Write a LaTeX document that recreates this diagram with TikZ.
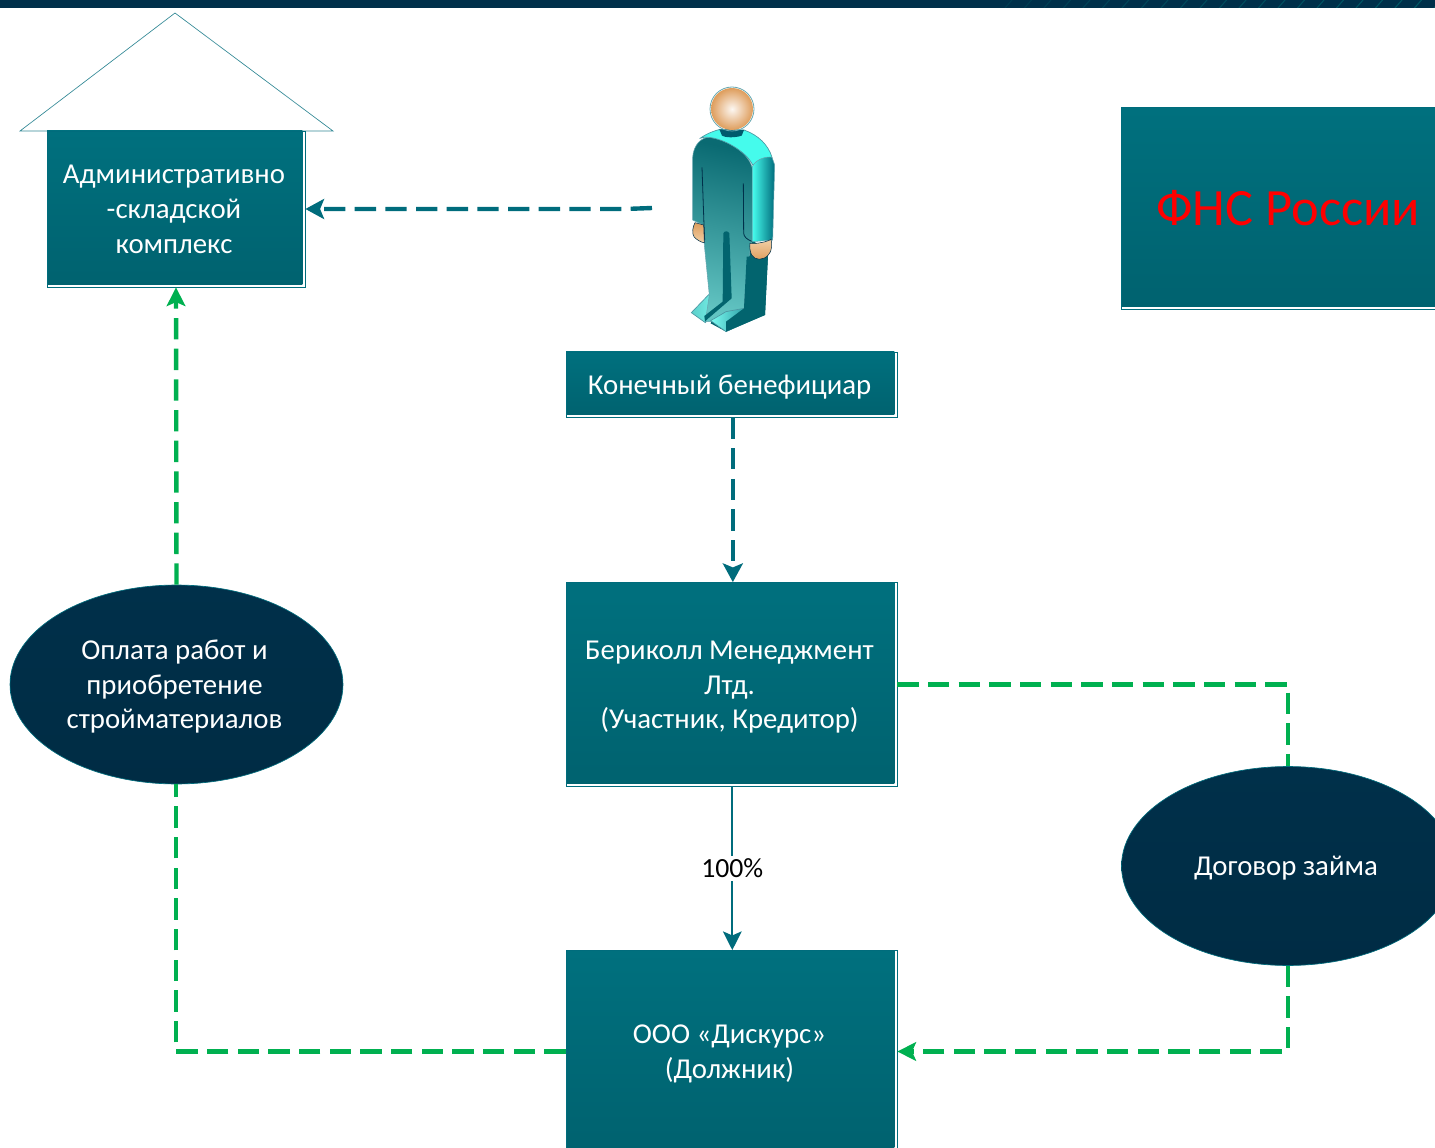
\documentclass[tikz,border=0pt]{standalone}
\usepackage{fontspec}
\setmainfont{Carlito}
\usetikzlibrary{arrows.meta,shapes.geometric,calc}
\definecolor{tealtop}{HTML}{00707E}
\definecolor{tealbot}{HTML}{00626F}
\definecolor{navy}{HTML}{00304A}
\definecolor{navyb}{HTML}{002C44}
\definecolor{linet}{HTML}{006C7C}
\definecolor{grn}{HTML}{00B050}
\definecolor{shoulderc}{HTML}{45FBEC}
\definecolor{bodytop}{HTML}{0A6A72}
\definecolor{bodybot}{HTML}{62C4C2}
\definecolor{legdark}{HTML}{02646E}
\definecolor{skin}{HTML}{DE9D5C}
\definecolor{skinl}{HTML}{F2CFA6}
\newcommand\tbx[2][1.9pt]{\raisebox{-#1}[\dimexpr\height+#1][\dimexpr\depth+#1]{\begin{tabular}{@{}c@{}}#2\end{tabular}\kern3pt}}
\tikzset{
  px/.style={x=0.75pt,y=-0.75pt},
  tbox/.style={rectangle,draw=linet,line width=0.6pt,fill=white,text=white,inner sep=0pt,
    font=\fontsize{21.6pt}{26.2pt}\selectfont,
    path picture={\shade[top color=tealtop,bottom color=tealbot]
      (path picture bounding box.north west) rectangle ([xshift=-1.9pt,yshift=1.9pt]path picture bounding box.south east);}},
  oval/.style={ellipse,draw=linet,line width=0.5pt,top color=navy,bottom color=navyb,text=white,inner sep=0pt,
    font=\fontsize{21.6pt}{26.2pt}\selectfont},
  tealdash/.style={draw=linet,line width=3.3pt,dash pattern=on 16pt off 7pt,-{Stealth[length=14pt,width=15pt,inset=3pt]}},
  grndash/.style={draw=grn,line width=3.3pt,dash pattern=on 16pt off 7pt},
  grnarrow/.style={grndash,-{Stealth[length=14pt,width=14pt,inset=3pt]}},
  tealsolid/.style={draw=linet,line width=1.6pt,-{Stealth[length=14pt,width=14pt,inset=3pt]}},
  outl/.style={draw=linet!70!white,line width=0.5pt},
  crease/.style={draw=navy,line width=0.6pt},
}
\begin{document}
\begin{tikzpicture}[px]
\useasboundingbox (0,0) rectangle (1435,1148);
% top bar
\fill[navy] (0,0) rectangle (1435,8);
\begin{scope}
\clip (0,0) rectangle (1435,8);
\foreach \k in {0,...,22}{
  \draw[teal!55!navy,line width=0.8pt,opacity=0.3+0.03*\k] ({1005+19.5*\k},8) -- ({1012+19.5*\k},0);
}
\end{scope}
% roof
\coordinate (rooftop) at (175,13);
\coordinate (roofl) at (20,131);
\coordinate (roofr) at (333,131);
\draw[linet!80!white,line width=0.5pt,fill=white] (rooftop) -- (roofl) -- (roofr) -- cycle;
% boxes
\node[tbox,minimum width=193.5pt,minimum height=117pt] (adm) at (176,209) {\tbx{Административно\\-складской\\комплекс}};
\node[tbox,minimum width=248.2pt,minimum height=48.8pt] (ben) at (731.5,384.5) {\tbx{Конечный бенефициар}};
\node[tbox,minimum width=248.2pt,minimum height=153pt] (ber) at (731.5,684.5) {\tbx{Бериколл Менеджмент\\Лтд.\\(Участник, Кредитор)}};
\node[tbox,minimum width=248.2pt,minimum height=151.5pt] (dis) at (731.5,1051.5) {\tbx{ООО «Дискурс»\\(Должник)}};
\node[tbox,minimum width=253.5pt,minimum height=151pt,font=\fontsize{39.3pt}{44pt}\selectfont,text=red] (fns) at (1290,208.5) {\tbx[4pt]{ФНС России}};
% ellipses
\node[oval,minimum width=249.7pt,minimum height=149.2pt] (pay) at (176.5,684.5) {\tbx{Оплата работ и\\приобретение\\стройматериалов}};
\node[oval,minimum width=249.7pt,minimum height=149.2pt] (loan) at (1288,866) {\tbx{Договор займа}};
% person
\coordinate (pers) at (652,208);
\begin{scope}[shift={(640,70)},scale=1/3,x=0.75pt,y=-0.75pt]
  % far leg
  \fill[legdark] (318,490) -- (384,555) -- (375,735) -- (258,785) -- (212,760) -- (250,680) -- cycle;
  % left foot
  \path[outl,left color=bodybot!80!shoulderc,right color=shoulderc!70!white] (154,728) -- (206,674) -- (250,700) -- (196,758) -- cycle;
  % body + legs
  \path[top color=bodytop,bottom color=bodybot,shading angle=-12,draw=linet!60!white,line width=0.4pt]
    (158,262) .. controls (160,225) and (185,200) .. (210,202)
    .. controls (265,210) and (330,250) .. (338,300)
    -- (338,500) -- (320,600) -- (312,715) -- (260,755) -- (212,755) -- (196,755) -- (208,675) -- (192,515) -- (190,465)
    -- (158,450) -- cycle;
  % leg gap
  \fill[legdark] (250,490) .. controls (252,482) and (265,482) .. (268,490) -- (275,685) -- (205,745) -- (195,755) -- (193,738) -- (248,695) -- cycle;
  % right foot
  \path[outl,left color=shoulderc!70!white,right color=linet] (212,752) -- (258,725) -- (312,715) -- (372,733) -- (258,785) -- cycle;
  \fill[legdark] (258,785) -- (258,755) -- (312,715) -- (320,560) -- (384,555) -- (375,735) -- cycle;
  % shoulder
  \path[outl,fill=shoulderc] (180,205) .. controls (205,188) and (225,182) .. (240,178)
    -- (312,180) .. controls (355,195) and (385,225) .. (396,262)
    -- (338,285) .. controls (320,245) and (250,205) .. (205,202) .. controls (195,201) and (188,202) .. cycle;
  % arm
  \path[left color=shoulderc,right color=linet,draw=linet!60!white,line width=0.4pt]
    (338,288) .. controls (350,265) and (385,258) .. (396,262) -- (404,285) -- (398,510) -- (338,515) -- cycle;
  % creases
  \draw[crease] (186,292) -- (192,465) -- (194,510);
  \draw[crease] (310,340) -- (311,490) .. controls (312,500) and (320,508) .. (335,514);
  % hands
  \path[draw=navy,line width=0.4pt,top color=skin,bottom color=skinl]
    (165,458) .. controls (158,470) and (155,490) .. (162,500) .. controls (170,510) and (185,518) .. (193,518) -- (191,465) -- cycle;
  \path[draw=navy,line width=0.4pt,top color=skinl,bottom color=skin]
    (330,520) .. controls (350,522) and (380,516) .. (393,508) .. controls (397,520) and (396,545) .. (385,555)
    .. controls (370,572) and (345,572) .. (335,555) .. controls (330,545) and (328,530) .. (330,520) -- cycle;
  % neck
  \fill[linet!70!navy] (238,178) -- (312,180) -- (305,197) .. controls (285,204) and (255,203) .. (246,197) -- cycle;
  % head
  \draw[linet!60!white,line width=0.6pt] (276,117) circle (66);
  \shade[inner color=white!92!skin,outer color=skin] (276,117) circle (63);
\end{scope}
% connectors
\draw[tealdash] (pers) -- (625,209) -- (adm.east);
\draw[tealdash] ([xshift=1pt]ben.south) -- ([xshift=1pt]ber.north);
\draw[tealsolid] ([xshift=0.6pt]ber.south) -- node[fill=white,inner sep=2pt,text=black,font=\fontsize{20.8pt}{24pt}\selectfont] (pct) {100\%} ([xshift=0.6pt]dis.north);
\draw[grnarrow] (pay.north) -- (adm.south);
\coordinate (c1) at (adm.south |- dis.west);
\draw[grndash] (dis.west) -- (c1) -- (adm.south |- pay.south);
\coordinate (c2) at (loan.north |- ber.east);
\draw[grndash] (ber.east) -- (c2) -- (loan.north);
\coordinate (c3) at (loan.south |- dis.east);
\draw[grnarrow] (loan.south) -- (c3) -- (dis.east);
\end{tikzpicture}
\end{document}
